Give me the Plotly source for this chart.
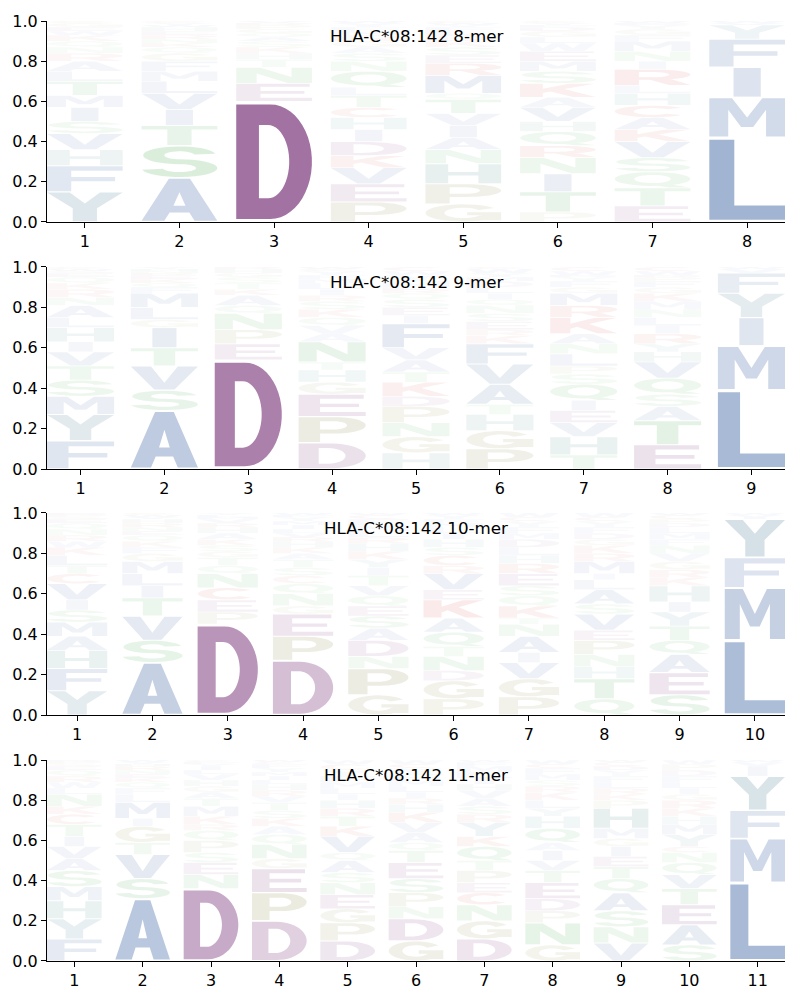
import numpy as np
import plotly.graph_objects as go

# ---- data: letter + height (percent), stacked bottom -> top ----
titles = ["HLA-C*08:142 8-mer", "HLA-C*08:142 9-mer",
          "HLA-C*08:142 10-mer", "HLA-C*08:142 11-mer"]

logo_8mer = [
    "Y15 F13 H8 V8 S6 I7 M6 T7 L5 A5 R4 N3 Q3 K3 W2 E2 G2 C1",
    "A22 S16 T10 I8 V8 L6 M5 F5 G4 Q3 K2 N2 R2 E2 H2 W1 Y1 C1",
    "D60 E9 N8 T4 H3 K3 S3 A2 Q2 G2 P2 R1 V1",
    "P10 E9 V8 K6 D7 I6 H6 C5 T6 L4 Q8 N5 S4 A3 G3 R3 M2 F2 Y2 W1",
    "G9 P10 H10 N7 A6 I6 V6 T7 Q3 M9 R6 E4 S4 K3 D3 L2 F2 Y1 W1 C1",
    "P5 T10 I9 N8 R6 Q7 H5 V7 A5 K7 S6 M5 E5 W4 L3 G3 D2 F1 Y1 C1",
    "E8 T9 Q8 S7 V8 K6 A6 C6 H6 L4 R8 I4 N5 M5 F3 G3 Y2 D1 W1",
    "L42 M20 I15 F14 Y7 V1 W1",
]
logo_9mer = [
    "F14 Y13 M9 S8 T7 V7 I5 H7 L5 A6 N4 R4 K3 Q3 E2 G1 W1 C1",
    "A29 S10 V12 T9 I10 G4 L6 M7 F3 Q2 K2 E2 R1 N1 H1 Y1",
    "D54 E8 P7 N8 Q4 A5 K3 T3 S3 G2 H2 R1",
    "D13 P13 E11 G6 H6 T4 N10 A4 V4 Q4 K4 S4 R3 I3 L3 M2 F2 Y2 C1 W1",
    "H8 G8 N7 P8 D5 K7 T5 A6 V6 F12 I4 E4 S4 Q3 R2 L1 M3 Y3 W2 C2",
    "P10 G9 H8 T5 A10 V10 F10 K4 R3 E4 S4 N4 Q3 I3 L3 D3 M2 Y2 W2 C1",
    "T7 H9 V7 E6 I5 Q8 S5 P4 L6 N5 A5 K8 R6 M6 G3 F3 Y2 D1 W2 C2",
    "E12 T12 A7 S6 Q8 V8 H5 Y4 R5 I4 L4 N4 M4 K4 G3 F3 P2 D1 W2 C2",
    "L39 M22 I14 Y12 F10 V2 W1",
]
logo_10mer = [
    "Y12 F11 H9 A7 M7 S6 I5 V8 C5 T4 L5 K4 W3 R3 N3 Q3 E2 G1 P1 D1",
    "A26 S11 V12 T9 I6 L6 M6 G4 F3 K3 Q3 E2 N2 R2 H2 Y1 W1 C1",
    "D45 P6 E6 C6 N7 Q4 T4 G3 S3 K3 A3 H3 R2 V2 M1 L1 Y1",
    "D27 P12 E11 G4 N6 Q5 C4 S4 T4 A3 K3 H3 R2 V2 L2 I2 M2 Y2 F1 W1",
    "G10 P13 N6 D8 A6 S6 E5 Q5 V5 T5 I4 Y4 K4 H4 R3 L3 M3 F3 C2 W1",
    "P8 G9 D5 N7 T5 Q7 A7 K9 E5 V8 R4 C5 S4 H4 I3 L3 M2 F2 Y2 W1",
    "P9 G9 V8 I5 A8 N6 T3 K6 Q5 S5 E6 R5 H4 L4 D4 M3 F3 Y3 C2 W2",
    "Q8 T10 H6 N6 P7 E5 V8 S5 A7 L5 I3 M6 R4 K4 G3 D3 F3 Y3 C2 W2",
    "S10 E11 A9 Q7 T7 Y7 I5 H8 K4 R4 G4 V4 N4 F3 M3 L3 D2 P2 C2 W1",
    "L37 M26 F15 Y19 I1 V1 W1",
]
logo_11mer = [
    "F11 Y10 H9 M7 S8 A6 V6 I5 T6 C5 K4 N6 L3 W3 R3 Q3 E2 G1 P1 D1",
    "A31 S10 V12 T6 G8 I4 M8 L4 F3 Q3 K2 E2 N2 R2 H1 Y1 W1",
    "D36 N7 E6 S5 P6 Q5 R3 K4 M5 T4 A3 G3 H3 V3 L2 I2 Y1 F1 C1",
    "D20 P14 E12 G5 N7 Q5 A4 K4 S4 T4 V3 R3 H3 L2 I2 M2 Y2 F2 C1 W1",
    "D10 P9 G7 E7 N6 S5 A6 Q4 V8 K5 T5 R4 H4 I3 L3 M3 F3 Y3 C3 W2",
    "G10 D11 N6 P7 S7 E8 T6 Q4 A5 V5 K5 H4 R3 I3 L3 M3 F3 Y3 C2 W2",
    "D11 G9 N8 C6 E5 P6 T5 Q7 K5 Y7 R4 S4 A4 V4 H3 I3 L3 M3 F2 W1",
    "G8 N11 P6 D6 E8 T6 V5 I5 A4 Q7 H6 Y4 L4 K4 R3 S3 M3 F3 C2 W2",
    "V9 N8 S8 A9 Q7 T6 E5 I5 G4 M5 H10 P4 K3 R3 L3 F3 Y3 D2 C2 W1",
    "S8 A10 E10 T8 V7 Q6 N5 C3 Y6 M5 H4 K4 R4 G3 I3 L3 F3 D3 P3 W2",
    "L39 M22 F14 Y17 I5 V2 W1",
]
logos = [logo_8mer, logo_9mer, logo_10mer, logo_11mer]

# ---- colours per residue group ----
BLUE, PURPLE, OLIVE = (30, 76, 148), (100, 20, 100), (110, 110, 30)
GREEN, RED, TEAL, YCOL = (30, 150, 40), (200, 25, 25), (20, 110, 100), (30, 95, 125)
colors = {}
for aa in "AILMFVW":
    colors[aa] = BLUE
for aa in "DE":
    colors[aa] = PURPLE
for aa in "PG":
    colors[aa] = OLIVE
for aa in "STNQ":
    colors[aa] = GREEN
for aa in "KRC":
    colors[aa] = RED
colors["H"] = TEAL
colors["Y"] = YCOL


# ---- glyph outlines in a unit box ----
def arc(cx, cy, rx, ry, a0, a1, n=26):
    t = np.radians(np.linspace(a0, a1, n))
    return [(cx + rx * np.cos(a), cy + ry * np.sin(a)) for a in t]


def ring(cx, cy, rxo, ryo, rxi, ryi, a0, a1):
    return arc(cx, cy, rxo, ryo, a0, a1) + arc(cx, cy, rxi, ryi, a1, a0)


def rect(x0, y0, x1, y1):
    return [(x0, y0), (x1, y0), (x1, y1), (x0, y1)]


def orient(pts, hole=False):
    p = np.array(pts)
    area = np.sum(p[:, 0] * np.roll(p[:, 1], -1) - np.roll(p[:, 0], -1) * p[:, 1])
    if (area > 0) == hole:
        pts = pts[::-1]
    return pts


P_out = [(0, 0), (0.32, 0), (0.32, 0.34), (0.55, 0.34)] + arc(0.55, 0.67, 0.45, 0.33, -90, 90) + [(0, 1)]
P_hole = [(0.32, 0.5), (0.52, 0.5)] + arc(0.52, 0.67, 0.2, 0.17, -90, 90) + [(0.32, 0.84)]

glyphs = {
    "A": [([(0, 0), (0.3, 0), (0.37, 0.2), (0.63, 0.2), (0.7, 0), (1, 0), (0.64, 1), (0.36, 1)], False),
          ([(0.42, 0.36), (0.58, 0.36), (0.5, 0.68)], True)],
    "C": [(ring(0.5, 0.5, 0.5, 0.5, 0.25, 0.3, 40, 320), False)],
    "D": [([(0, 0), (0.45, 0)] + arc(0.45, 0.5, 0.55, 0.5, -90, 90) + [(0, 1)], False),
          ([(0.3, 0.18), (0.42, 0.18)] + arc(0.42, 0.5, 0.28, 0.32, -90, 90) + [(0.3, 0.82)], True)],
    "E": [([(0, 0), (1, 0), (1, 0.18), (0.32, 0.18), (0.32, 0.42), (0.9, 0.42), (0.9, 0.58),
            (0.32, 0.58), (0.32, 0.82), (0.97, 0.82), (0.97, 1), (0, 1)], False)],
    "F": [([(0, 0), (0.32, 0), (0.32, 0.4), (0.9, 0.4), (0.9, 0.57), (0.32, 0.57), (0.32, 0.82),
            (1, 0.82), (1, 1), (0, 1)], False)],
    "G": [(ring(0.5, 0.5, 0.5, 0.5, 0.25, 0.3, 35, 330), False),
          (rect(0.55, 0.36, 1, 0.54), False), (rect(0.74, 0.08, 1, 0.54), False)],
    "H": [([(0, 0), (0.3, 0), (0.3, 0.41), (0.7, 0.41), (0.7, 0), (1, 0), (1, 1), (0.7, 1),
            (0.7, 0.59), (0.3, 0.59), (0.3, 1), (0, 1)], False)],
    "I": [(rect(0.32, 0, 0.68, 1), False)],
    "K": [([(0, 0), (0.3, 0), (0.3, 0.3), (0.4, 0.42), (0.7, 0), (1, 0), (0.58, 0.6), (0.98, 1),
            (0.65, 1), (0.3, 0.62), (0.3, 1), (0, 1)], False)],
    "L": [([(0, 0), (1, 0), (1, 0.18), (0.33, 0.18), (0.33, 1), (0, 1)], False)],
    "M": [([(0, 0), (0.25, 0), (0.25, 0.7), (0.42, 0.25), (0.58, 0.25), (0.75, 0.7), (0.75, 0),
            (1, 0), (1, 1), (0.7, 1), (0.5, 0.5), (0.3, 1), (0, 1)], False)],
    "N": [([(0, 0), (0.27, 0), (0.27, 0.62), (0.68, 0), (1, 0), (1, 1), (0.73, 1), (0.73, 0.38),
            (0.32, 1), (0, 1)], False)],
    "P": [(P_out, False), (P_hole, True)],
    "Q": [(arc(0.5, 0.55, 0.5, 0.45, 0, 360, 40), False), (arc(0.5, 0.55, 0.24, 0.27, 0, 360, 40), True),
          ([(0.5, 0.15), (0.72, 0), (1, 0), (0.72, 0.2)], False)],
    "R": [(P_out, False), (P_hole, True), ([(0.45, 0.36), (0.72, 0), (1, 0), (0.72, 0.42)], False)],
    "S": [(ring(0.5, 0.71, 0.48, 0.29, 0.2, 0.13, 10, 270), False),
          (ring(0.5, 0.29, 0.5, 0.29, 0.22, 0.13, 90, -170), False)],
    "T": [([(0, 1), (1, 1), (1, 0.82), (0.66, 0.82), (0.66, 0), (0.34, 0), (0.34, 0.82), (0, 0.82)], False)],
    "V": [([(0, 1), (0.3, 1), (0.5, 0.3), (0.7, 1), (1, 1), (0.65, 0), (0.35, 0)], False)],
    "W": [([(0, 1), (0.2, 1), (0.3, 0.35), (0.42, 1), (0.58, 1), (0.7, 0.35), (0.8, 1), (1, 1),
            (0.85, 0), (0.6, 0), (0.5, 0.55), (0.4, 0), (0.15, 0)], False)],
    "Y": [([(0, 1), (0.3, 1), (0.5, 0.62), (0.7, 1), (1, 1), (0.66, 0.45), (0.66, 0), (0.34, 0),
            (0.34, 0.45)], False)],
}


def glyph_path(letter, xc, y0, h, width=0.8, vpad=0.05):
    pad = h * vpad / 2
    parts = []
    for pts, hole in glyphs[letter]:
        pts = orient(pts, hole)
        xy = [(xc + (gx - 0.5) * width, y0 + pad + gy * (h - 2 * pad)) for gx, gy in pts]
        parts.append("M" + "L".join(f"{x:.4f},{y:.4f}" for x, y in xy) + "Z")
    return "".join(parts)


# ---- figure ----
y_domains = [[0.7862, 1.0], [0.5234, 0.7383], [0.2617, 0.4766], [0.0, 0.2138]]
font = dict(family="DejaVu Sans", size=16, color="black")

fig = go.Figure()
shapes, annotations = [], []
for k, (logo, title) in enumerate(zip(logos, titles)):
    sfx = "" if k == 0 else str(k + 1)
    n = len(logo)
    fig.add_trace(go.Scatter(x=[], y=[], xaxis="x" + sfx, yaxis="y" + sfx, showlegend=False))
    for pos, col in enumerate(logo, start=1):
        base = 0.0
        for tok in col.split():
            aa, h = tok[0], float(tok[1:]) / 100
            r, g, b = colors[aa]
            alpha = max(min(h, 1.0), 0.03)
            shapes.append(dict(
                type="path", path=glyph_path(aa, pos, base, h),
                xref="x" + sfx, yref="y" + sfx, layer="below",
                fillcolor=f"rgba({r},{g},{b},{alpha:.3f})", fillrule="nonzero",
                line=dict(width=0),
            ))
            base += h
    axis_common = dict(showline=True, linecolor="black", linewidth=1, ticks="outside",
                       ticklen=5, tickwidth=1, tickcolor="black", showgrid=False,
                       zeroline=False, tickfont=font, automargin=False)
    fig.update_layout(**{
        "xaxis" + sfx: dict(axis_common, domain=[0, 1], range=[0.6, n + 0.4],
                            tickvals=list(range(1, n + 1)), anchor="y" + sfx),
        "yaxis" + sfx: dict(axis_common, domain=y_domains[k], range=[0, 1],
                            tickvals=[0, 0.2, 0.4, 0.6, 0.8, 1.0],
                            ticktext=["0.0", "0.2", "0.4", "0.6", "0.8", "1.0"],
                            anchor="x" + sfx),
    })
    annotations.append(dict(text=title, x=0.5, xref="x" + sfx + " domain", y=1,
                            yref="y" + sfx + " domain", yshift=-15, yanchor="middle",
                            showarrow=False, font=dict(family="DejaVu Sans", size=16.7, color="black")))

# page body adds an 8px offset, so margins are shifted to compensate
fig.update_layout(
    width=800, height=1000,
    margin=dict(l=39, r=23, t=13, b=47, autoexpand=False),
    paper_bgcolor="white", plot_bgcolor="white",
    shapes=shapes, annotations=annotations,
    showlegend=False,
)

fig.write_html("out.html")
